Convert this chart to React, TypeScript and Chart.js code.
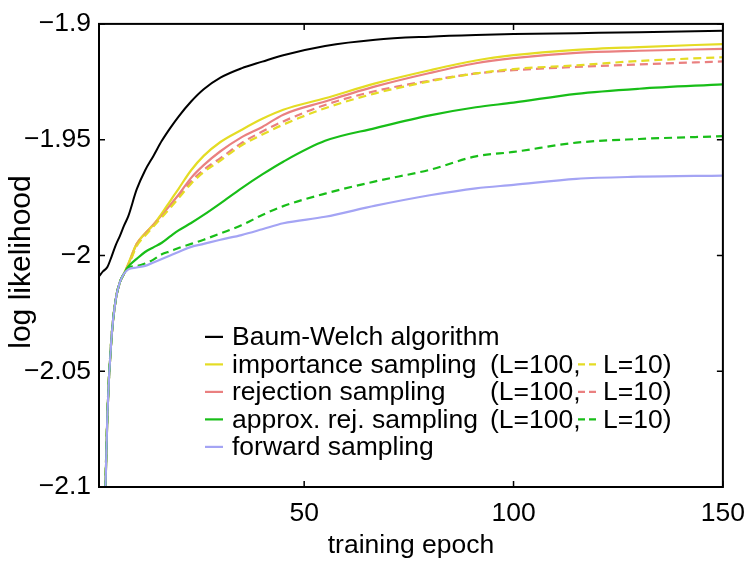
import React, { useEffect, useRef } from 'react';
import { Chart, registerables } from 'chart.js';

Chart.register(...registerables);

// ---- data ----
const epochs = [1, 2, 3, 4, 5, 6, 7, 8, 10, 12, 14, 16, 18, 20, 23, 26, 30, 35, 40, 45, 55, 67, 80, 91, 100, 115, 130, 150];

const baumWelch = [-2.009, -2.0068, -2.005, -2.0005, -1.9955, -1.9915, -1.987, -1.983, -1.9715, -1.9633, -1.957, -1.9505, -1.945, -1.94, -1.9335, -1.9282, -1.9232, -1.9192, -1.9163, -1.9135, -1.9095, -1.9068, -1.9055, -1.9048, -1.9044, -1.904, -1.9036, -1.903];

const importance100 = [null, -2.14, -2.069, -2.035, -2.019, -2.0115, -2.0078, -2.0035, -1.995, -1.9905, -1.9868, -1.9818, -1.9765, -1.9712, -1.9632, -1.957, -1.951, -1.9458, -1.941, -1.9371, -1.9321, -1.9257, -1.92, -1.9158, -1.9135, -1.9112, -1.91, -1.9087];
const importance10 = [null, -2.14, -2.069, -2.035, -2.019, -2.0115, -2.0078, -2.0045, -1.996, -1.9915, -1.9875, -1.9835, -1.9795, -1.9753, -1.969, -1.964, -1.959, -1.9525, -1.9478, -1.9435, -1.9364, -1.93, -1.9248, -1.9214, -1.9195, -1.9179, -1.916, -1.9144];

const rejection100 = [null, -2.14, -2.069, -2.035, -2.019, -2.0115, -2.0078, -2.0039, -1.995, -1.9905, -1.9866, -1.9825, -1.9782, -1.9738, -1.9665, -1.961, -1.955, -1.949, -1.9445, -1.9392, -1.9335, -1.927, -1.9212, -1.917, -1.9148, -1.9125, -1.9116, -1.9108];
const rejection10 = [null, -2.14, -2.069, -2.035, -2.019, -2.0115, -2.0078, -2.0042, -1.9955, -1.991, -1.987, -1.983, -1.979, -1.9748, -1.968, -1.963, -1.958, -1.9515, -1.9465, -1.9421, -1.935, -1.929, -1.9245, -1.9214, -1.92, -1.9186, -1.9175, -1.9162];

const approx100 = [null, -2.14, -2.069, -2.035, -2.019, -2.0115, -2.0078, -2.0048, -2.0015, -1.9985, -1.9965, -1.9945, -1.9918, -1.9892, -1.986, -1.9825, -1.9775, -1.971, -1.965, -1.9595, -1.9505, -1.945, -1.9395, -1.936, -1.934, -1.9302, -1.928, -1.9261];
const approx10 = [null, -2.14, -2.069, -2.035, -2.019, -2.0115, -2.0078, -2.0052, -2.0046, -2.0035, -2.0018, -1.9995, -1.9982, -1.9968, -1.995, -1.9932, -1.9905, -1.987, -1.9825, -1.9787, -1.9733, -1.968, -1.963, -1.9572, -1.9553, -1.9513, -1.9497, -1.9485];

const forward = [null, -2.14, -2.069, -2.035, -2.019, -2.0115, -2.0078, -2.006, -2.0052, -2.0045, -2.003, -2.0015, -2.0, -1.9985, -1.9963, -1.995, -1.9932, -1.9912, -1.9887, -1.9861, -1.9833, -1.9785, -1.974, -1.971, -1.9695, -1.9669, -1.966, -1.9655];

const xTicks = [50, 100, 150];
const yTicks = [-2.1, -2.05, -2, -1.95, -1.9];
const yTickLabels = ['\u22122.1', '\u22122.05', '\u22122', '\u22121.95', '\u22121.9'];

const legendLabels = ['Baum-Welch algorithm', 'importance sampling', 'rejection sampling', 'approx. rej. sampling', 'forward sampling'];
const legendHasDashed = [false, true, true, true, false];

const xTitle = 'training epoch';
const yTitle = 'log likelihood';

// ---- styles ----
const BLACK = '#000000';
const YELLOW = 'rgb(228,220,36)';
const RED = 'rgb(234,128,128)';
const GREEN = 'rgb(24,190,24)';
const BLUE = 'rgb(164,164,244)';
const legendColors = [BLACK, YELLOW, RED, GREEN, BLUE];
const FONT = "'Liberation Sans', Arial, Helvetica, sans-serif";
const DASH = [8, 5];

function pts(vals: (number | null)[]) {
  const out: { x: number; y: number }[] = [];
  epochs.forEach((e, i) => {
    const v = vals[i];
    if (v !== null && v !== undefined) out.push({ x: e, y: v });
  });
  return out;
}

const framePlugin = {
  id: 'frameAndLegend',
  afterDatasetsDraw(chart: any) {
    const { ctx, chartArea } = chart;
    const { left, right, top, bottom } = chartArea;
    const xs = chart.scales.x;
    const ys = chart.scales.y;
    ctx.save();
    // frame
    ctx.strokeStyle = '#000';
    ctx.lineWidth = 2;
    ctx.strokeRect(left, top, right - left, bottom - top);
    // inward ticks
    ctx.lineWidth = 1.5;
    ctx.beginPath();
    const tl = 6;
    xTicks.forEach((v) => {
      const p = xs.getPixelForValue(v);
      ctx.moveTo(p, bottom);
      ctx.lineTo(p, bottom - tl);
      ctx.moveTo(p, top);
      ctx.lineTo(p, top + tl);
    });
    yTicks.forEach((v) => {
      const p = ys.getPixelForValue(v);
      ctx.moveTo(left, p);
      ctx.lineTo(left + tl, p);
      ctx.moveTo(right, p);
      ctx.lineTo(right - tl, p);
    });
    ctx.stroke();

    // legend
    ctx.font = `26.5px ${FONT}`;
    ctx.textBaseline = 'middle';
    ctx.textAlign = 'left';
    const lx0 = left + 106;
    const lx1 = left + 124;
    const tx = left + 133;
    const colX = left + 391;
    const dash0 = left + 479;
    const dash1 = left + 501;
    const tx2 = left + 504;
    const rowY0 = top + 313;
    const rowH = 27.5;
    legendLabels.forEach((lab, i) => {
      const y = rowY0 + i * rowH;
      ctx.strokeStyle = legendColors[i];
      ctx.lineWidth = 2.2;
      ctx.setLineDash([]);
      ctx.beginPath();
      ctx.moveTo(lx0, y);
      ctx.lineTo(lx1, y);
      ctx.stroke();
      ctx.fillStyle = '#000';
      ctx.fillText(lab, tx, y + 1);
      if (legendHasDashed[i]) {
        ctx.fillText('(L=100,', colX, y + 1);
        ctx.setLineDash([7, 4]);
        ctx.beginPath();
        ctx.moveTo(dash0, y);
        ctx.lineTo(dash1, y);
        ctx.stroke();
        ctx.setLineDash([]);
        ctx.fillText('L=10)', tx2, y + 1);
      }
    });

    // axis titles
    ctx.fillStyle = '#000';
    ctx.textAlign = 'center';
    ctx.textBaseline = 'alphabetic';
    ctx.font = `26.5px ${FONT}`;
    ctx.fillText(xTitle, (left + right) / 2, 553);
    ctx.save();
    ctx.font = `30px ${FONT}`;
    ctx.translate(30, 262);
    ctx.rotate(-Math.PI / 2);
    ctx.fillText(yTitle, 0, 0);
    ctx.restore();
    ctx.restore();
  },
};

export default function App() {
  const ref = useRef<HTMLCanvasElement | null>(null);
  useEffect(() => {
    document.body.style.margin = '0';
    const canvas = ref.current;
    if (!canvas) return;
    const ds = (label: string, vals: (number | null)[], color: string, dashed: boolean, w = 2.2) => ({
      label,
      data: pts(vals),
      borderColor: color,
      backgroundColor: color,
      borderWidth: w,
      borderDash: dashed ? DASH : [],
      pointRadius: 0,
      fill: false,
      cubicInterpolationMode: 'monotone' as const,
      spanGaps: true,
    });
    const chart = new Chart(canvas, {
      type: 'line',
      data: {
        datasets: [
          ds('forward sampling', forward, BLUE, false),
          ds('approx. rej. sampling L=10', approx10, GREEN, true),
          ds('approx. rej. sampling L=100', approx100, GREEN, false),
          ds('importance sampling L=10', importance10, YELLOW, true),
          ds('rejection sampling L=10', rejection10, RED, true),
          ds('importance sampling L=100', importance100, YELLOW, false),
          ds('rejection sampling L=100', rejection100, RED, false),
          ds('Baum-Welch algorithm', baumWelch, BLACK, false, 2),
        ],
      },
      options: {
        responsive: false,
        animation: false,
        layout: { padding: { top: 18, right: 26, left: 0, bottom: 0 } },
        plugins: { legend: { display: false }, tooltip: { enabled: false } },
        scales: {
          x: {
            type: 'linear',
            min: 1,
            max: 150,
            grid: { display: false, drawTicks: false },
            border: { display: false },
            afterBuildTicks: (s: any) => {
              s.ticks = xTicks.map((v) => ({ value: v }));
            },
            afterFit: (s: any) => {
              s.height = 84;
            },
            ticks: {
              padding: 11,
              maxRotation: 0,
              autoSkip: false,
              color: '#000',
              font: { family: FONT, size: 26.5 },
              callback: (v: any) => String(v),
            },
          },
          y: {
            type: 'linear',
            min: -2.1,
            max: -1.9,
            grid: { display: false, drawTicks: false },
            border: { display: false },
            afterBuildTicks: (s: any) => {
              s.ticks = yTicks.map((v) => ({ value: v }));
            },
            afterFit: (s: any) => {
              s.width = 99;
            },
            ticks: {
              padding: 8,
              autoSkip: false,
              color: '#000',
              font: { family: FONT, size: 26.5 },
              callback: (v: any) => {
                const i = yTicks.findIndex((t) => Math.abs(t - Number(v)) < 1e-9);
                return i >= 0 ? yTickLabels[i] : '';
              },
            },
          },
        },
      },
      plugins: [framePlugin],
    });
    return () => chart.destroy();
  }, []);
  return (
    <div style={{ position: 'absolute', left: 0, top: 0, width: 756, height: 571, background: '#fff' }}>
      <canvas ref={ref} width={756} height={571} style={{ display: 'block' }} />
    </div>
  );
}
